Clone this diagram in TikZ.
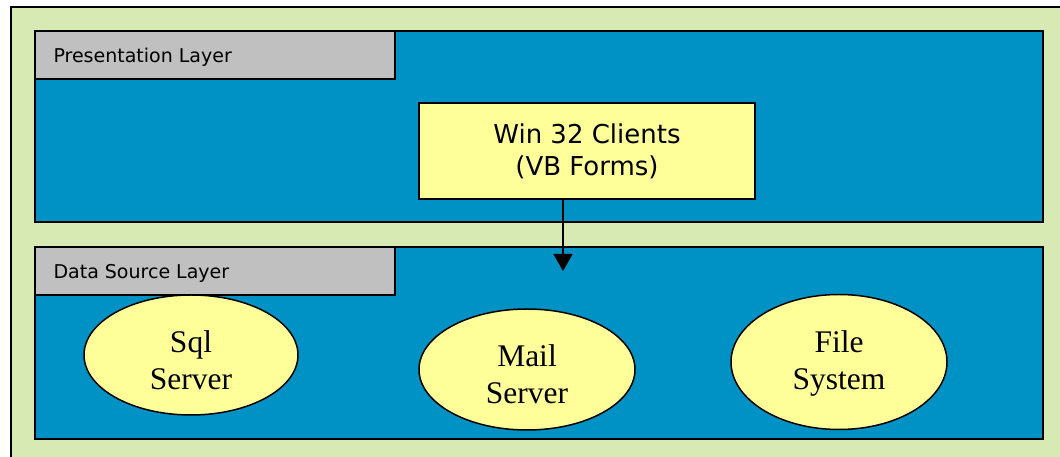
\documentclass[tikz,border=0pt]{standalone}
\usepackage{fontspec}
\setmainfont{Liberation Serif}
\newfontfamily\labfont{DejaVu Sans}
\usetikzlibrary{shapes.geometric,arrows.meta}
\definecolor{outergreen}{HTML}{D7EAB4}
\definecolor{layerblue}{HTML}{0091C5}
\definecolor{labgray}{HTML}{C0C0C0}
\definecolor{boxyellow}{HTML}{FFFF99}
\tikzset{
  layer/.style={draw=black, line width=1.8pt, fill=layerblue},
  laylabel/.style={draw=black, line width=1.8pt, fill=labgray},
  client/.style={draw=black, line width=1.5pt, fill=boxyellow, align=center, font=\labfont\fontsize{26}{32}\selectfont},
  store/.style={ellipse, draw=black, line width=1.5pt, fill=boxyellow, inner sep=0pt},
  storetext/.style={align=center, font=\fontsize{31.5}{37}\selectfont, inner sep=0pt},
  labtext/.style={anchor=west, font=\labfont\fontsize{19}{21}\selectfont}
}
\begin{document}
\begin{tikzpicture}[x=1pt,y=1pt]
\useasboundingbox (0,0) rectangle (1060,457);
\begin{scope}
\clip (0,0) rectangle (1060,457);
\fill[white] (0,0) rectangle (1060,457);
\draw[fill=outergreen, line width=2pt] (11,-10) -- (11,450) -- (1070,450);
\fill[outergreen] (12,-10) rectangle (1070,449);
\end{scope}
% layers
\draw[layer] (35,235) rectangle (1043,426);
\draw[laylabel] (35,378) rectangle (395,426);
\node[labtext] (plabel) at (50,400) {Presentation Layer};
\draw[layer] (35,18) rectangle (1043,210);
\draw[laylabel] (35,162) rectangle (395,210);
\node[labtext] (dlabel) at (50,184) {Data Source Layer};
% client
\node[client, minimum width=336pt, minimum height=96pt] (win) at (587,306) {Win 32 Clients\\(VB Forms)};
\coordinate (tip) at (563,186);
\draw[line width=1.5pt, -{Triangle[length=17pt,width=19pt]}] (win.south -| tip) -- (tip);
% stores
\node[store, minimum width=214pt, minimum height=120pt,
  label={[storetext, yshift=-5pt]center:Sql\\Server}] (sql) at (191,102) {};
\node[store, minimum width=216pt, minimum height=121pt,
  label={[storetext, yshift=-5pt]center:Mail\\Server}] (mail) at (527,87.5) {};
\node[store, minimum width=216pt, minimum height=135pt,
  label={[storetext, yshift=-1pt]center:File\\System}] (file) at (839,95) {};
\end{tikzpicture}
\end{document}
